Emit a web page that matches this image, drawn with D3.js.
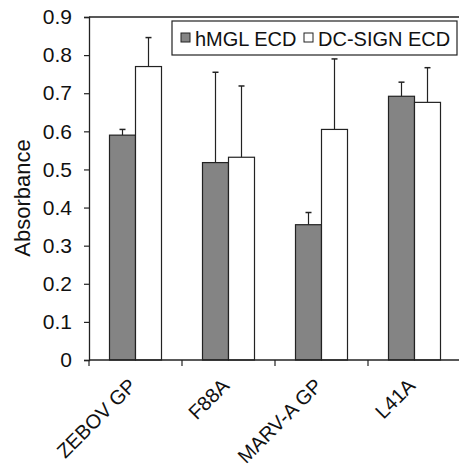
<!DOCTYPE html>
<html>
<head>
<meta charset="utf-8">
<script src="https://cdn.jsdelivr.net/npm/d3@7"></script>
<style>
  body { margin: 0; background: #fff; }
  text { font-family: "Liberation Sans", Arial, sans-serif; fill: #111; }
</style>
</head>
<body>
<svg id="chart" width="459" height="466"></svg>
<script>
// values
const categories = ["ZEBOV GP", "F88A", "MARV-A GP", "L41A"];
const seriesNames = ["hMGL ECD", "DC-SIGN ECD"];
const hmgl = [0.59, 0.518, 0.355, 0.692];
const hmglErr = [0.015, 0.237, 0.032, 0.037];
const dcsign = [0.77, 0.532, 0.605, 0.676];
const dcsignErr = [0.076, 0.187, 0.185, 0.091];
const yTicks = [0, 0.1, 0.2, 0.3, 0.4, 0.5, 0.6, 0.7, 0.8, 0.9];
const colors = ["#848484", "#ffffff"];

const margin = {top: 17, right: 0, bottom: 106, left: 89};
const width = 372, height = 343;

const svg = d3.select('#chart');
const g = svg.append('g').attr('transform', `translate(${margin.left},${margin.top})`);

const x = d3.scaleBand().domain(categories).range([0, width]).paddingInner(0).paddingOuter(0);
const xs = d3.scaleBand().domain(seriesNames).range([20.5, x.bandwidth() - 20.5]);
const y = d3.scaleLinear().domain([0, 0.9]).range([height, 0]);

const data = categories.map((c, i) => ({
  cat: c,
  vals: [
    {s: seriesNames[0], v: hmgl[i], e: hmglErr[i], k: 0},
    {s: seriesNames[1], v: dcsign[i], e: dcsignErr[i], k: 1}
  ]
}));

// top frame line
g.append('line')
  .attr('x1', 0).attr('x2', width + 10)
  .attr('y1', y(0.9)).attr('y2', y(0.9))
  .attr('stroke', '#222').attr('stroke-width', 1.3);

const groups = g.selectAll('.grp').data(data).enter().append('g')
  .attr('transform', d => `translate(${x(d.cat)},0)`);

// error bars (upper only)
groups.selectAll('.err').data(d => d.vals).enter().append('g')
  .each(function(d) {
    const cx = xs(d.s) + xs.bandwidth() / 2;
    const sel = d3.select(this);
    sel.append('line')
      .attr('x1', cx).attr('x2', cx)
      .attr('y1', y(d.v)).attr('y2', y(d.v + d.e))
      .attr('stroke', '#222').attr('stroke-width', 1.2);
    sel.append('line')
      .attr('x1', cx - 3).attr('x2', cx + 3)
      .attr('y1', y(d.v + d.e)).attr('y2', y(d.v + d.e))
      .attr('stroke', '#222').attr('stroke-width', 1.5);
  });

groups.selectAll('rect').data(d => d.vals).enter().append('rect')
  .attr('x', d => xs(d.s))
  .attr('width', xs.bandwidth())
  .attr('y', d => y(d.v))
  .attr('height', d => y(0) - y(d.v))
  .attr('fill', d => colors[d.k])
  .attr('stroke', '#222').attr('stroke-width', 1.2);

// y axis
const yAxis = g.append('g')
  .call(d3.axisLeft(y).tickValues(yTicks).tickFormat(d => d === 0 ? "0" : d3.format(".1f")(d)).tickSize(5).tickPadding(12));
yAxis.select('.domain').attr('stroke', '#222').attr('stroke-width', 1.3);
yAxis.selectAll('line').attr('stroke', '#222').attr('stroke-width', 1.2);
yAxis.selectAll('text').style('font-size', '21px').attr('fill', '#111')
  .style('font-family', '"Liberation Sans", Arial, sans-serif');

// x axis: ticks on category boundaries
const xAxisG = g.append('g').attr('transform', `translate(0,${height})`);
xAxisG.append('line').attr('x1', 0).attr('x2', width + 10).attr('y1', 0).attr('y2', 0)
  .attr('stroke', '#222').attr('stroke-width', 1.3);
xAxisG.selectAll('.xt').data(categories).enter().append('line')
  .attr('x1', d => x(d)).attr('x2', d => x(d))
  .attr('y1', 0).attr('y2', 6)
  .attr('stroke', '#222').attr('stroke-width', 1.2);
xAxisG.selectAll('.xl').data(categories).enter().append('text')
  .attr('transform', d => `translate(${x(d) + x.bandwidth() / 2 + 2},${27}) rotate(-45)`)
  .attr('text-anchor', 'end')
  .style('font-size', '20px')
  .text(d => d);

// y label
svg.append('text')
  .attr('transform', 'translate(30,198) rotate(-90)')
  .attr('text-anchor', 'middle')
  .style('font-size', '22px')
  .text('Absorbance');

// legend
const leg = svg.append('g').attr('transform', 'translate(172,21)');
leg.append('rect').attr('width', 285).attr('height', 34)
  .attr('fill', '#fff').attr('stroke', '#222').attr('stroke-width', 1.2);
const legX = [9, 132];
seriesNames.forEach((s, i) => {
  leg.append('rect').attr('x', legX[i]).attr('y', 12).attr('width', 9).attr('height', 9)
    .attr('fill', colors[i]).attr('stroke', '#222').attr('stroke-width', 1);
  leg.append('text').attr('x', legX[i] + 14).attr('y', 25)
    .style('font-size', '20px').text(s);
});
</script>
</body>
</html>
